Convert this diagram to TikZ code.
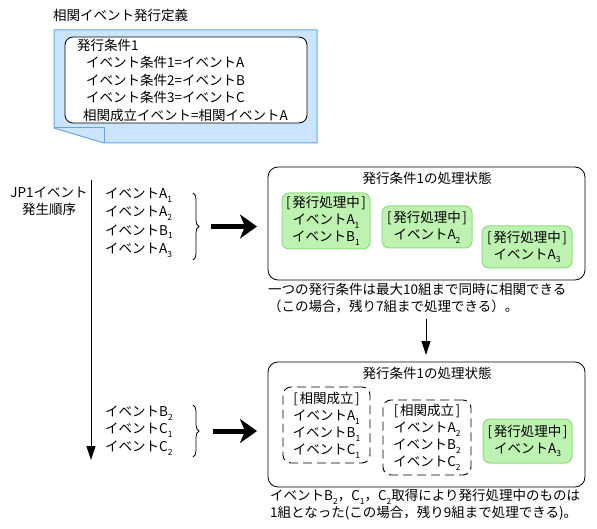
\documentclass[tikz,border=0pt]{standalone}
\usepackage{fontspec}
\setmainfont{Noto Sans CJK JP}
\usetikzlibrary{arrows.meta,decorations.pathreplacing}
\newcommand\sbs[1]{\raisebox{-0.5ex}{\fontsize{8.5}{8.5}\selectfont #1}}
\newcommand\lb{[\kern1.5pt}
\newcommand\rb{\kern1.5pt]}
\definecolor{docfill}{RGB}{204,229,255}
\definecolor{docline}{RGB}{100,165,235}
\definecolor{gfill}{RGB}{190,242,176}
\definecolor{gline}{RGB}{140,222,128}
\begin{document}
\begin{tikzpicture}[x=1pt,y=-1pt,
  txt/.style={font=\fontsize{13.5}{17.5}\selectfont, inner sep=0pt},
  statebox/.style={draw, rounded corners=10pt, line width=0.8pt, minimum width=317pt, inner sep=0pt},
  busy/.style={txt, font=\fontsize{13.5}{17}\selectfont, draw=gline, fill=gfill, rounded corners=7pt, align=center, line width=1pt},
  corr/.style={txt, font=\fontsize{13.5}{17}\selectfont, draw, line width=0.9pt, dash pattern=on 9pt off 5pt, rounded corners=8pt, align=center},
  bigarrow/.style={line width=5pt, -{Stealth[length=17pt,width=24pt,inset=5pt]}},
  timearrow/.style={line width=0.8pt, -{Triangle[length=14pt,width=9pt]}},
  bracestyle/.style={decorate, decoration={brace, amplitude=6pt}, line width=0.8pt},
]
\useasboundingbox (0,0) rectangle (597,529);

% definition document
\node[txt, anchor=west] (deftitle) at (53,15) {相関イベント発行定義};
\path[fill=docfill, draw=docline, line width=1pt] (54,30) -- (317,30) -- (317,143) -- (104,143) -- (54,128) -- cycle;
\draw[docline, line width=1pt] (54,128) -- (104,128) -- (104,143);
\node[draw, fill=white, rounded corners=8pt, line width=0.8pt, minimum width=242pt, minimum height=86pt, inner sep=0pt] (defbox) at (186,80) {};
\node[txt, anchor=west] (c0) at (77,45) {発行条件1};
\node[txt, anchor=west] (c1) at (86,62.5) {イベント条件1=イベントA};
\node[txt, anchor=west] (c2) at (86,80) {イベント条件2=イベントB};
\node[txt, anchor=west] (c3) at (86,97.5) {イベント条件3=イベントC};
\node[txt, anchor=west] (c4) at (83,115) {相関成立イベント=相関イベントA};

% time axis
\node[txt, align=center] (order) at (49,201.5) {JP1イベント\\発生順序};
\coordinate (tstart) at (91,180);
\coordinate (tend) at (91,460);
\draw[timearrow] (tstart) -- (tend);

% first event group
\node[txt, align=left, anchor=west, font=\fontsize{13.5}{18.3}\selectfont] (list1) at (105,222.5)
  {イベントA\sbs{1}\\イベントA\sbs{2}\\イベントB\sbs{1}\\イベントA\sbs{3}};
\coordinate (b1top) at (193,193);
\coordinate (b1bot) at (193,260);
\draw[bracestyle] (b1top) -- (b1bot);
\coordinate (a1s) at (211,226.5);
\coordinate (a1e) at (257,226.5);
\draw[bigarrow] (a1s) -- (a1e);

% state 1
\node[statebox, minimum height=113pt] (state1) at (426.5,223.5) {};
\node[txt] (s1title) at (427,178) {発行条件1の処理状態};
\node[busy, minimum width=88pt, minimum height=56pt] (g11) at (326,221) {\lb 発行処理中\rb\\イベントA\sbs{1}\\イベントB\sbs{1}};
\node[busy, minimum width=90pt, minimum height=42pt] (g12) at (427,227) {\lb 発行処理中\rb\\イベントA\sbs{2}};
\node[busy, minimum width=90pt, minimum height=42pt] (g13) at (527,247) {\lb 発行処理中\rb\\イベントA\sbs{3}};
\node[txt, align=left, anchor=north west, font=\fontsize{13.5}{17}\selectfont] (note1) at (268,283)
  {一つの発行条件は最大10組まで同時に相関できる\\（この場合，残り7組まで処理できる）。};

\coordinate (d1) at (426,319);
\coordinate (d2) at (426,355);
\draw[timearrow] (d1) -- (d2);

% second event group
\node[txt, align=left, anchor=west, font=\fontsize{13.5}{17.5}\selectfont] (list2) at (105,430.5)
  {イベントB\sbs{2}\\イベントC\sbs{1}\\イベントC\sbs{2}};
\coordinate (b2top) at (193,405);
\coordinate (b2bot) at (193,457);
\draw[bracestyle] (b2top) -- (b2bot);
\coordinate (a2s) at (213,431);
\coordinate (a2e) at (257,431);
\draw[bigarrow] (a2s) -- (a2e);

% state 2
\node[statebox, minimum height=125pt] (state2) at (426.5,424.5) {};
\node[txt] (s2title) at (427,373) {発行条件1の処理状態};
\node[corr, minimum width=87pt, minimum height=76pt] (k21) at (326.5,425) {\lb 相関成立\rb\\イベントA\sbs{1}\\イベントB\sbs{1}\\イベントC\sbs{1}};
\node[corr, minimum width=88pt, minimum height=75pt] (k22) at (427,437.5) {\lb 相関成立\rb\\イベントA\sbs{2}\\イベントB\sbs{2}\\イベントC\sbs{2}};
\node[busy, minimum width=89pt, minimum height=44pt] (g23) at (527.5,441) {\lb 発行処理中\rb\\イベントA\sbs{3}};
\node[txt, align=left, anchor=north west, font=\fontsize{13.5}{16.5}\selectfont] (note2) at (270,489)
  {イベントB\sbs{2}，C\sbs{1}，C\sbs{2}取得により発行処理中のものは\\1組となった(この場合，残り9組まで処理できる)。};
\end{tikzpicture}
\end{document}
